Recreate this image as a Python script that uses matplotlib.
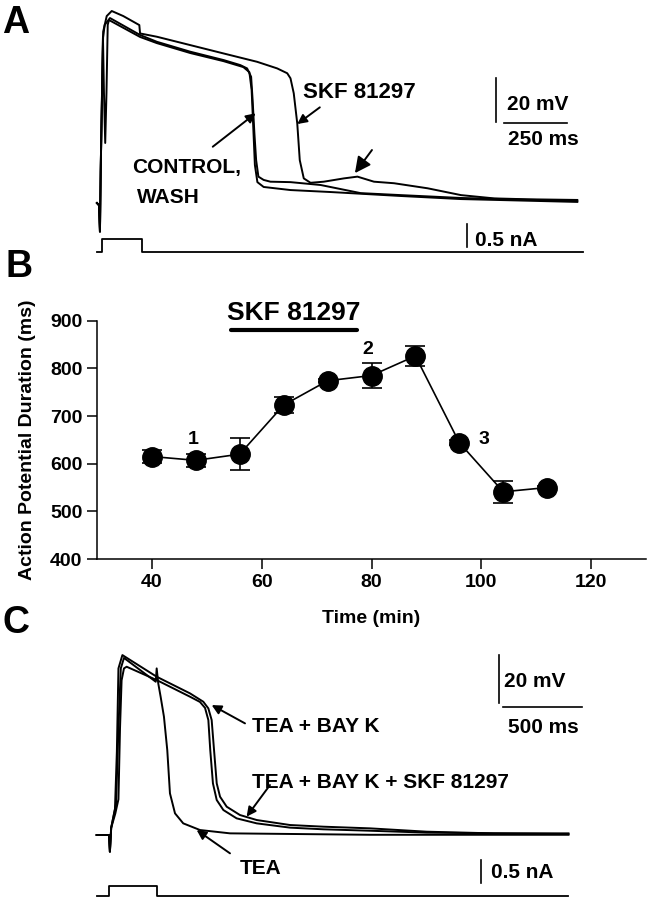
import numpy as np
import matplotlib.pyplot as plt

plt.rcParams['font.family'] = ['Liberation Sans', 'DejaVu Sans']
plt.rcParams['font.weight'] = 'bold'

# ---- Panel A: action potentials (time in ms, voltage in mV) ----
a_t_control = [-19, -11, -7, -4, 5, 12, 33, 153, 220, 353, 486, 553, 580, 596, 602, 609, 616,
               625, 646, 673, 753, 873, 1033, 1193, 1433, 1897]
a_v_control = [-75, -76, -88, -60, 0, 6, 9.1, 1.4, -1.7, -6.2, -10, -12.3, -13.8, -17.6, -28.2, -43.2,
               -55.5, -63, -64.5, -65.3, -65.5, -66.8, -70.5, -71.4, -72.7, -74.1]
a_t_wash = [-19, -11, -7, -4, 5, 9, 14, 19, 24, 29, 153, 220, 353, 486, 565, 589, 598, 605, 611,
            621, 646, 753, 913, 1193, 1433, 1897]
a_v_wash = [-75, -76, -88, -60, 0.5, -25, -47.7, -25, 6, 8.2, 0.5, -2.3, -6.8, -10.5, -13.2, -15.5,
            -23.6, -41.8, -57.7, -65.5, -67.7, -69.1, -70, -71.8, -73.2, -74.5]
a_t_skf = [-19, -11, -7, -4, 6, 20, 40, 86, 150, 153, 220, 353, 486, 620, 700, 740, 753, 766, 780,
           790, 806, 833, 886, 966, 1020, 1086, 1166, 1300, 1433, 1566, 1700, 1897]
a_v_skf = [-75, -76, -88, -60, 3, 10, 12.3, 10, 5.9, 2.1, 0.6, -3.2, -7, -10.8, -13.8, -16, -18.3,
           -25.1, -38.8, -55.5, -63.8, -65.8, -65.3, -63.8, -63, -65.3, -66, -68.3, -71.4, -72.9,
           -73.3, -73.6]
# injected current step (nA)
a_i_t = [-18, 0, 0, 162, 162, 1919]
a_i = [0, 0, 0.285, 0.285, 0, 0]

# ---- Panel B: APD time course ----
time_min = [40, 48, 56, 64, 72, 80, 88, 96, 104, 112]
apd_ms = [615, 607, 620, 723, 774, 785, 826, 644, 541, 550]
apd_err = [14, 13, 33, 17, 3, 27, 20, 5, 23, 3]
skf_period = [54.4, 77.4]
point_labels = ['1', '2', '3']
point_label_x = [47.6, 79.3, 100.5]
point_label_y = [651, 839, 650]

# ---- Panel C: TEA experiments ----
c_t_bayk = [-78, 0, 6, 14, 38, 50, 60, 85, 302, 513, 597, 629, 650, 665, 682, 703, 745, 829, 935,
            1146, 1357, 1652, 2011, 2433, 2908]
c_v_bayk = [-75, -75, -82, -72, -64, -40, -5, 0.6, -8.5, -15.5, -19, -21.8, -26.7, -39.3, -53.3,
            -58.9, -63.1, -66.6, -68.7, -70.8, -71.5, -72.2, -73.6, -74.3, -74.3]
c_t_bayk_skf = [-78, 0, 6, 14, 40, 60, 70, 80, 95, 112, 302, 513, 576, 608, 629, 641, 658, 682, 724,
                808, 935, 1146, 1357, 1652, 2011, 2908]
c_v_bayk_skf = [-75, -75, -82, -72, -66, -60, -30, -10, -5, -4.3, -9.9, -16.9, -19.1, -21.6, -26.7,
                -39.3, -53.3, -60.3, -64.5, -68, -70.1, -71.9, -72.6, -73.2, -74, -74.6]
c_t_tea = [-78, 0, 6, 14, 45, 60, 75, 95, 296, 302, 312, 327, 348, 369, 386, 418, 470, 576, 766,
           1652, 2908]
c_v_tea = [-75, -75, -82, -72, -62, -30, -5, -0.6, -10.6, -5, -11.3, -16.9, -25.3, -39.3, -57.5,
           -65.9, -70.1, -72.9, -74.3, -74.9, -74.9]
c_i_t = [-78, 0, 0, 302, 302, 2907]
c_i = [0, 0, 0.22, 0.22, 0, 0]

W, H = 649, 900
fig = plt.figure(figsize=(6.49, 9.0), dpi=100)


def px_axes(x0, y0, x1, y1):
    # axes placed by pixel box (top-left origin)
    ax = fig.add_axes([x0 / W, 1 - y1 / H, (x1 - x0) / W, (y1 - y0) / H])
    ax.set_axis_off()
    return ax


def arrow(ax, tail, head, ms=14):
    ax.annotate('', xy=head, xytext=tail,
                arrowprops=dict(arrowstyle='-|>', color='k', lw=1.4, mutation_scale=ms,
                                shrinkA=0, shrinkB=0))


tkw = dict(fontsize=15, fontweight='bold')
trace_lw = 1.4

# Panel A voltage
axA = px_axes(90, 0, 600, 260)
axA.set_xlim(-46.7, 1987.6)
axA.set_ylim(-100.9, 17.3)
for t, v in [(a_t_control, a_v_control), (a_t_wash, a_v_wash), (a_t_skf, a_v_skf)]:
    axA.plot(t, v, color='k', lw=trace_lw)
axA.plot([1572, 1572], [-38.0, -18.0], color='k', lw=1.2)
axA.plot([1605, 1855], [-38.8, -38.8], color='k', lw=1.2)
axA.text(1615, -32.5, '20 mV', **tkw)
axA.text(1619, -48.6, '250 ms', **tkw)
axA.text(804, -27.4, 'SKF 81297', fontsize=16, fontweight='bold')
axA.text(120, -61.4, 'CONTROL,', **tkw)
axA.text(140, -75, 'WASH', **tkw)
arrow(axA, (870, -31.5), (780, -39.1))
arrow(axA, (443, -49.4), (614, -34.2))
arrow(axA, (1078, -50.9), (1010, -61.4), ms=24)

axAi = px_axes(90, 215, 600, 260)
axAi.set_xlim(-46.7, 1987.6)
axAi.set_ylim(-0.165, 0.80)
axAi.plot(a_i_t, a_i, color='k', lw=1.3)
axAi.plot([1456, 1456], [0.107, 0.607], color='k', lw=1.2)
axAi.text(1489, 0.125, '0.5 nA', **tkw)

# Panel B
axB = fig.add_axes([97 / W, 1 - 559 / H, 549 / W, 238.3 / H])
axB.plot(time_min, apd_ms, color='k', lw=1.2, zorder=2)
axB.errorbar(time_min, apd_ms, yerr=apd_err, fmt='o', color='k', ms=14, capsize=7,
             elinewidth=1.2, capthick=1.2, zorder=3)
axB.plot(skf_period, [880, 880], color='k', lw=3, solid_capstyle='round', clip_on=False)
axB.text(np.mean(skf_period), 902, 'SKF 81297', fontsize=19, fontweight='bold', ha='center',
         va='baseline')
for lab, x, y in zip(point_labels, point_label_x, point_label_y):
    axB.text(x, y, lab, fontsize=14, fontweight='bold', ha='center', va='center')
axB.set_xlim(30, 130)
axB.set_ylim(400, 900)
axB.set_xticks([40, 60, 80, 100, 120])
axB.set_yticks([400, 500, 600, 700, 800, 900])
axB.spines['top'].set_visible(False)
axB.spines['right'].set_visible(False)
for s in ['left', 'bottom']:
    axB.spines[s].set_linewidth(1.1)
axB.tick_params(direction='out', length=7.5, width=1.1, labelsize=14, pad=3)
for lab in axB.get_xticklabels() + axB.get_yticklabels():
    lab.set_fontweight('bold')
axB.set_xlabel('Time (min)', fontsize=14, fontweight='bold', labelpad=14)
axB.set_ylabel('Action Potential Duration (ms)', fontsize=14, fontweight='bold', labelpad=10)

# Panel C voltage
axC = px_axes(90, 640, 600, 900)
axC.set_xlim(-120, 3107.6)
axC.set_ylim(-102.3, 6.93)
for t, v in [(c_t_bayk, c_v_bayk), (c_t_bayk_skf, c_v_bayk_skf), (c_t_tea, c_v_tea)]:
    axC.plot(t, v, color='k', lw=trace_lw)
axC.plot([2470, 2470], [-19.4, 0.6], color='k', lw=1.2)
axC.plot([2492, 2992], [-21.3, -21.3], color='k', lw=1.2)
axC.text(2500, -12.9, '20 mV', **tkw)
axC.text(2525, -32.3, '500 ms', **tkw)
axC.text(903, -31.6, 'TEA + BAY K', **tkw)
axC.text(903, -55.4, 'TEA + BAY K + SKF 81297', **tkw)
axC.text(829, -91.4, 'TEA', **tkw)
arrow(axC, (861, -28.1), (650, -20.4))
arrow(axC, (1019, -54), (871, -67.3))
arrow(axC, (766, -82.7), (555, -72.9))

axCi = px_axes(90, 850, 600, 900)
axCi.set_xlim(-120, 3107.6)
axCi.set_ylim(-0.086, 0.987)
axCi.plot(c_i_t, c_i, color='k', lw=1.3)
axCi.plot([2354, 2354], [0.273, 0.773], color='k', lw=1.2)
axCi.text(2416, 0.38, '0.5 nA', **tkw)

# panel letters
for lab, x, y in [('A', 2, 33), ('B', 5, 277), ('C', 2, 633)]:
    fig.text(x / W, 1 - y / H, lab, fontsize=27, fontweight='bold', va='baseline')

fig.savefig('out.png', dpi=100)
